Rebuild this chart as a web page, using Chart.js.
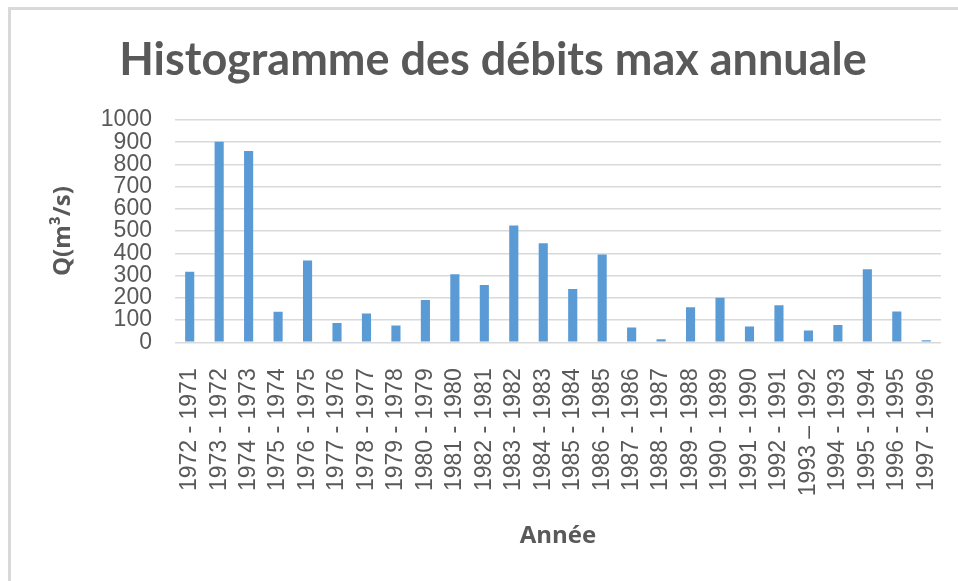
<!DOCTYPE html>
<html lang="fr">
<head>
    <meta charset="UTF-8">
    <title>Histogramme des débits max annuale</title>
    <script src="https://cdn.jsdelivr.net/npm/chart.js"></script>
    <style>
        html, body { margin: 0; padding: 0; background: #fff; }
        #wrap { position: relative; width: 958px; height: 581px; overflow: hidden; }
        /* cadre gris du graphique (haut et gauche seulement visibles) */
        #frame {
            position: absolute; left: 8px; top: 7px; width: 980px; height: 620px;
            border-left: 3px solid #d9d9d9; border-top: 3px solid #d9d9d9;
        }
        #chart { position: absolute; left: 0; top: 0; }
    </style>
</head>
<body>
    <div id="wrap">
        <div id="frame"></div>
        <canvas id="chart" width="958" height="581"></canvas>
    </div>

    <script>
        // Années hydrologiques
        const annees = [
            '1972 - 1971', '1973 - 1972', '1974 - 1973', '1975 - 1974', '1976 - 1975',
            '1977 - 1976', '1978 - 1977', '1979 - 1978', '1980 - 1979', '1981 - 1980',
            '1982 - 1981', '1983 - 1982', '1984 - 1983', '1985 - 1984', '1986 - 1985',
            '1987 - 1986', '1988 - 1987', '1989 - 1988', '1990 - 1989', '1991 - 1990',
            '1992 - 1991', '1993 \u2013 1992', '1994 - 1993', '1995 - 1994', '1996 - 1995',
            '1997 - 1996'
        ];
        // Débits max annuels Q (m³/s)
        const debitsMax = [
            317, 902, 861, 137, 368, 87, 130, 75, 190, 306,
            258, 525, 445, 240, 395, 66, 14, 158, 200, 71,
            167, 53, 78, 329, 139, 9
        ];
        // Graduations de l'axe Q
        const yTicks = [0, 100, 200, 300, 400, 500, 600, 700, 800, 900, 1000];

        const grey = '#595959';

        const ctx = document.getElementById('chart').getContext('2d');
        const chart = new Chart(ctx, {
            type: 'bar',
            data: {
                labels: annees,
                datasets: [{
                    label: 'Q(m³/s)',
                    data: debitsMax,
                    backgroundColor: '#5b9bd5',
                    barPercentage: 0.31,
                    categoryPercentage: 1.0
                }]
            },
            options: {
                responsive: false,
                animation: false,
                layout: {
                    padding: { left: 45, right: 17, top: 0, bottom: 26 }
                },
                plugins: {
                    legend: { display: false },
                    tooltip: { enabled: false },
                    title: {
                        display: true,
                        text: 'Histogramme des débits max annuale',
                        color: grey,
                        font: { family: 'Lato, sans-serif', size: 45, weight: 'bold' },
                        padding: { top: 33, bottom: 33 }
                    }
                },
                scales: {
                    x: {
                        grid: { display: false, drawTicks: false },
                        border: { display: false },
                        ticks: {
                            autoSkip: false,
                            minRotation: 90,
                            maxRotation: 90,
                            padding: 26,
                            color: grey,
                            // petite hauteur de ligne : évite la marge à droite
                            font: { family: "'Liberation Sans', Arial, sans-serif", size: 23, lineHeight: 0.2 }
                        },
                        title: {
                            display: true,
                            text: 'Année',
                            color: grey,
                            font: { family: "'Open Sans', sans-serif", size: 24, weight: 'bold' },
                            padding: { top: 0, bottom: 4 }
                        }
                    },
                    y: {
                        min: 0,
                        max: 1000,
                        afterBuildTicks: (axis) => {
                            axis.ticks = yTicks.map(v => ({ value: v }));
                        },
                        grid: { color: '#d9d9d9', lineWidth: 1.5, drawTicks: false },
                        border: { display: false },
                        ticks: {
                            autoSkip: false,
                            padding: 23,
                            color: grey,
                            callback: (v) => String(v),
                            font: { family: "'Liberation Sans', Arial, sans-serif", size: 23, lineHeight: 0.9 }
                        },
                        title: {
                            display: true,
                            text: 'Q(m³/s)',
                            color: grey,
                            font: { family: "'Open Sans', sans-serif", size: 24, weight: 'bold' },
                            padding: { top: 4, bottom: 0 }
                        }
                    }
                }
            }
        });
    </script>
</body>
</html>
